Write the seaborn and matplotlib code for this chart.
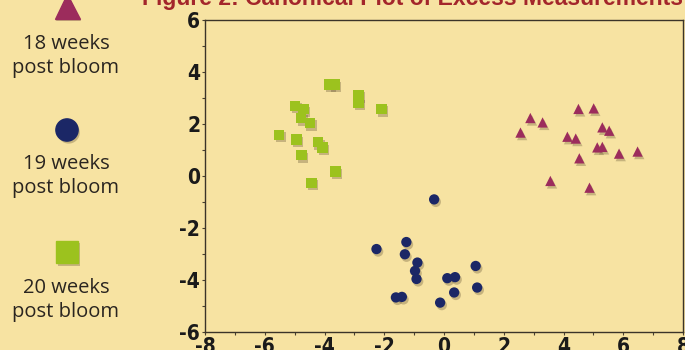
import matplotlib.pyplot as plt
import matplotlib.patheffects as pe
import seaborn as sns
import pandas as pd

# canonical scores
wk18_x = [2.56, 2.89, 3.30, 4.50, 5.01, 5.30, 5.53, 4.13, 4.41, 5.13, 5.30, 5.86, 6.48, 4.53, 3.56, 4.87]
wk18_y = [1.67, 2.23, 2.06, 2.58, 2.60, 1.87, 1.74, 1.51, 1.44, 1.10, 1.12, 0.86, 0.94, 0.68, -0.19, -0.45]

wk19_x = [-0.33, -1.26, -1.31, -0.89, -0.97, -0.92, -1.41, -1.61, 0.11, 0.37, 0.34, 1.06, 1.11, -0.13, -2.26]
wk19_y = [-0.90, -2.54, -3.01, -3.33, -3.65, -3.96, -4.65, -4.67, -3.93, -3.89, -4.48, -3.46, -4.29, -4.87, -2.81]

wk20_x = [-5.52, -4.98, -4.70, -4.78, -4.49, -4.94, -4.22, -4.07, -4.77, -4.44, -3.63, -3.83, -3.66, -2.86, -2.86, -2.09]
wk20_y = [1.59, 2.70, 2.57, 2.23, 2.04, 1.40, 1.30, 1.10, 0.80, -0.26, 0.17, 3.52, 3.52, 3.12, 2.82, 2.58]

groups = ["18 weeks\npost bloom", "19 weeks\npost bloom", "20 weeks\npost bloom"]
colors = ["#9c2c5c", "#1b2766", "#9cc21e"]
markers = ["^", "o", "s"]
x_ticks = [-8, -6, -4, -2, 0, 2, 4, 6, 8]
y_ticks = [-6, -4, -2, 0, 2, 4, 6]

df = pd.DataFrame({
    "x": wk18_x + wk19_x + wk20_x,
    "y": wk18_y + wk19_y + wk20_y,
    "group": [groups[0]] * len(wk18_x) + [groups[1]] * len(wk19_x) + [groups[2]] * len(wk20_x),
})

bg = "#f7e3a2"
sns.set_style("ticks")
plt.rcParams["font.family"] = ["DejaVu Sans"]
plt.rcParams["axes.unicode_minus"] = False

fig = plt.figure(figsize=(6.85, 3.5), dpi=100, facecolor=bg)
ax = fig.add_axes([205 / 685, 18 / 350, 478 / 685, 312 / 350])
ax.set_facecolor(bg)

shadow = [pe.SimplePatchShadow(offset=(1.2, -1.8), shadow_rgbFace="#6b5a3a", alpha=0.35), pe.Normal()]
sns.scatterplot(data=df, x="x", y="y", hue="group", style="group",
                palette=dict(zip(groups, colors)), markers=dict(zip(groups, markers)),
                s=55, edgecolor="none", legend=False, ax=ax)
for coll in ax.collections:
    coll.set_path_effects(shadow)

ax.set_xlim(-8, 8)
ax.set_ylim(-6, 6)
ax.set_xticks(x_ticks)
ax.set_yticks(y_ticks)
ax.set_xticks(range(-7, 8, 2), minor=True)
ax.set_yticks(range(-5, 6, 2), minor=True)
ax.set_xlabel("")
ax.set_ylabel("")
ax.tick_params(which="both", direction="out", length=2.5, width=0.8, color="#4a4030")
ax.tick_params(which="major", labelsize=15, pad=1)
for lab in ax.get_xticklabels() + ax.get_yticklabels():
    lab.set_fontweight("bold")
    lab.set_fontstretch("condensed")
    lab.set_color("#1a1a1a")
for sp in ax.spines.values():
    sp.set_color("#3b3428")
    sp.set_linewidth(1.0)

# title, cut by the top of the scan
fig.text(683 / 685, 1 - 5 / 350, "Figure 2: Canonical Plot of Excess Measurements",
         ha="right", va="baseline", fontsize=16.5, fontweight="bold", color="#a3262b",
         family=["Liberation Sans", "DejaVu Sans"])

# legend down the left side
key_pos = [(67, 6), (67, 130), (67, 252)]
text_pos = [56, 176, 300]
for (mx, my), ty, lab, c, m in zip(key_pos, text_pos, groups, colors, markers):
    fig.add_artist(plt.Line2D([mx / 685], [1 - my / 350], transform=fig.transFigure,
                              marker=m, markersize=18 if m == "^" else 16, color=c,
                              linestyle="none", path_effects=shadow))
    fig.text(66 / 685, 1 - ty / 350, lab, ha="center", va="center", fontsize=14.5,
             linespacing=1.3, color="#2a2520", family=["Open Sans", "DejaVu Sans"])

fig.savefig("out.png", dpi=100, facecolor=bg)
